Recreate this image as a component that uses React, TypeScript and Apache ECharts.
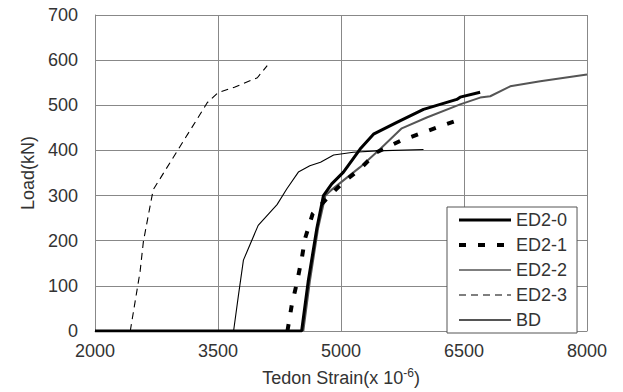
import React, { useEffect, useRef } from "react";
import * as echarts from "echarts";

const seriesNames = ["ED2-0", "ED2-1", "ED2-2", "ED2-3", "BD"];

const ed20Strain = [2000, 4520, 4600, 4705, 4786, 4887, 5030, 5233, 5396, 5681, 6006, 6412, 6453, 6697];
const ed20Load = [0, 0, 110, 227, 300, 326, 352, 403, 436, 462, 491, 513, 518, 529];

const ed21Strain = [4347, 4400, 4461, 4522, 4562, 4655, 4847, 5030, 5233, 5436, 5721, 6006, 6249, 6494];
const ed21Load = [0, 58, 106, 161, 205, 260, 297, 330, 359, 396, 421, 440, 456, 471];

const ed22Strain = [3690, 3750, 3810, 3990, 4220, 4340, 4480, 4620, 4750, 4910, 5150, 5440, 6006];
const ed22Load = [0, 80, 157, 234, 280, 315, 352, 366, 374, 390, 396, 399, 402];

const ed23Strain = [2430, 2470, 2550, 2590, 2650, 2710, 3370, 3500, 3700, 3980, 4100];
const ed23Load = [0, 44, 132, 198, 256, 313, 506, 528, 540, 561, 588];

const bdStrain = [4540, 4620, 4720, 4810, 4880, 5233, 5478, 5741, 6046, 6453, 6697, 6820, 7064, 7430, 8000];
const bdLoad = [0, 110, 227, 300, 312, 363, 403, 449, 473, 502, 517, 520, 542, 553, 568];

const zip = (xs: number[], ys: number[]) => xs.map((x, i) => [x, ys[i]]);

const FONT = "'Liberation Sans', Arial, sans-serif";

export default function App() {
  const ref = useRef<HTMLDivElement>(null);
  useEffect(() => {
    if (!ref.current) return;
    const chart = echarts.init(ref.current, undefined, { renderer: "svg" });
    const styles = [
      { color: "#000", width: 3, type: "solid" as any },
      { color: "#000", width: 4, type: [7, 12] as any },
      { color: "#000", width: 1.1, type: "solid" as any },
      { color: "#000", width: 1.1, type: [7, 5] as any },
      { color: "#555", width: 2, type: "solid" as any },
    ];
    const datas = [
      zip(ed20Strain, ed20Load),
      zip(ed21Strain, ed21Load),
      zip(ed22Strain, ed22Load),
      zip(ed23Strain, ed23Load),
      zip(bdStrain, bdLoad),
    ];
    chart.setOption({
      animation: false,
      textStyle: { fontFamily: FONT },
      grid: { left: 95, top: 15, right: 36, bottom: 59 },
      xAxis: {
        type: "value",
        min: 2000,
        max: 8000,
        interval: 1500,
        axisLine: { show: true, lineStyle: { color: "#888", width: 1 } },
        axisTick: { show: false },
        splitLine: { show: true, lineStyle: { color: "#888", width: 1 } },
        axisLabel: { color: "#333", fontSize: 18, margin: 11, fontFamily: FONT, formatter: (v: number) => String(v) },
        name: "Tedon Strain(x 10{sup|-6})",
        nameLocation: "middle",
        nameGap: 36,
        nameTextStyle: {
          color: "#333",
          fontSize: 18,
          fontFamily: FONT,
          rich: { sup: { fontSize: 12, verticalAlign: "top", padding: [0, 0, 10, 0], color: "#333", fontFamily: FONT } },
        },
      },
      yAxis: {
        type: "value",
        min: 0,
        max: 700,
        interval: 100,
        axisLine: { show: true, lineStyle: { color: "#888", width: 1 } },
        axisTick: { show: false },
        splitLine: { show: true, lineStyle: { color: "#888", width: 1 } },
        axisLabel: { color: "#333", fontSize: 18, margin: 17, fontFamily: FONT },
        name: "Load(kN)",
        nameLocation: "middle",
        nameGap: 58,
        nameTextStyle: { color: "#333", fontSize: 18, fontFamily: FONT },
      },
      legend: {
        orient: "vertical",
        left: 447,
        top: 207,
        width: 132,
        padding: [4, 10, 4, 10],
        itemWidth: 52,
        itemHeight: 14,
        itemGap: 7,
        backgroundColor: "#fff",
        borderColor: "#555",
        borderWidth: 1,
        borderRadius: 0,
        textStyle: { color: "#333", fontSize: 18, lineHeight: 18, fontFamily: FONT },
        data: seriesNames.map((n, i) => ({
          name: n,
          itemStyle: { opacity: 0 },
          lineStyle: { color: styles[i].color, width: styles[i].width, type: styles[i].type, opacity: 1 },
        })),
      },
      series: seriesNames.map((n, i) => ({
        name: n,
        type: "line",
        data: datas[i],
        symbol: "none",
        showSymbol: false,
        clip: true,
        z: 5 - i,
        lineStyle: styles[i],
        itemStyle: { color: styles[i].color },
      })),
    });
    return () => chart.dispose();
  }, []);
  return <div ref={ref} style={{ width: 623, height: 392, position: "absolute", left: 0, top: 0 }} />;
}
